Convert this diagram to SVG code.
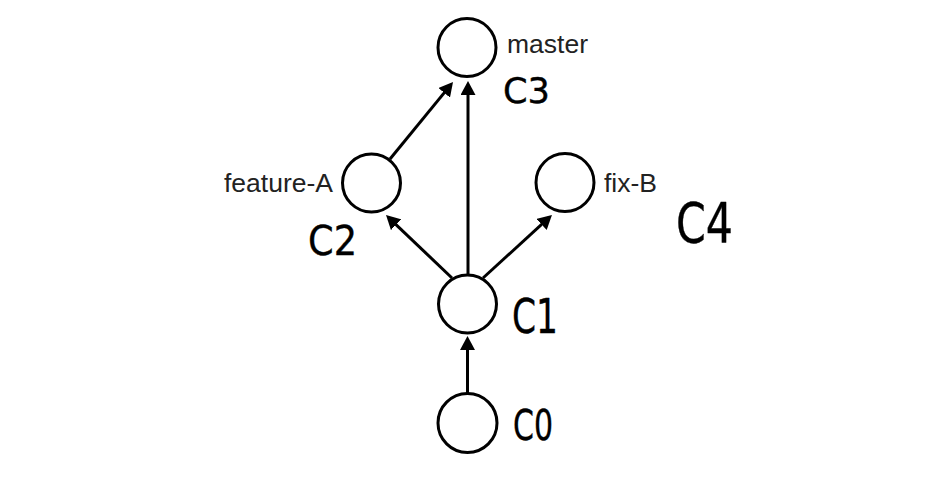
<svg xmlns="http://www.w3.org/2000/svg" width="927" height="479" viewBox="0 0 927 479">
<style>
.node circle{fill:#fff;stroke:#000;stroke-width:3}
.lbl{font-family:"Liberation Sans",Arial,sans-serif;font-size:26.5px;fill:#222}
.hand{font-family:"DejaVu Sans",sans-serif;fill:#000;stroke:#000;stroke-width:0.4;stroke-linejoin:round}
#edges line{stroke:#000;stroke-width:3;marker-end:url(#ah)}
</style>
<defs>
<marker id="ah" markerUnits="userSpaceOnUse" viewBox="0 0 14 15" refX="10" refY="7.5" markerWidth="14" markerHeight="15" orient="auto">
<path d="M0,0 L14,7.5 L0,15 z" fill="#000"/>
</marker>
</defs>
<rect width="927" height="479" fill="#fff"/>
<g id="edges">
<line x1="467.5" y1="393" x2="467.5" y2="340"/>
<line x1="468" y1="275" x2="468" y2="85"/>
<line x1="452" y1="278" x2="388.9" y2="217.8"/>
<line x1="483" y1="278" x2="549" y2="217.7"/>
<line x1="390" y1="159" x2="450.5" y2="85.1"/>
</g>
<g id="c3" class="node">
<circle cx="467" cy="47.5" r="29"/>
<text class="lbl" x="507" y="53">master</text>
<text class="hand" x="503" y="103" font-size="35" textLength="47" lengthAdjust="spacingAndGlyphs">C3</text>
</g>
<g id="c2" class="node">
<circle cx="371.5" cy="183" r="29"/>
<text class="lbl" x="333" y="192" text-anchor="end">feature-A</text>
<text class="hand" x="308" y="255" font-size="40" textLength="49" lengthAdjust="spacingAndGlyphs">C2</text>
</g>
<g id="c4" class="node">
<circle cx="565" cy="182.5" r="29"/>
<text class="lbl" x="604" y="192">fix-B</text>
<text class="hand" x="676" y="242" font-size="56" textLength="57" lengthAdjust="spacingAndGlyphs">C4</text>
</g>
<g id="c1" class="node">
<circle cx="467.5" cy="304" r="29"/>
<text class="hand" x="512" y="333" font-size="48" textLength="46" lengthAdjust="spacingAndGlyphs">C1</text>
</g>
<g id="c0" class="node">
<circle cx="467.5" cy="423" r="29.5"/>
<text class="hand" x="513" y="440" font-size="43" textLength="40" lengthAdjust="spacingAndGlyphs">C0</text>
</g>
</svg>
